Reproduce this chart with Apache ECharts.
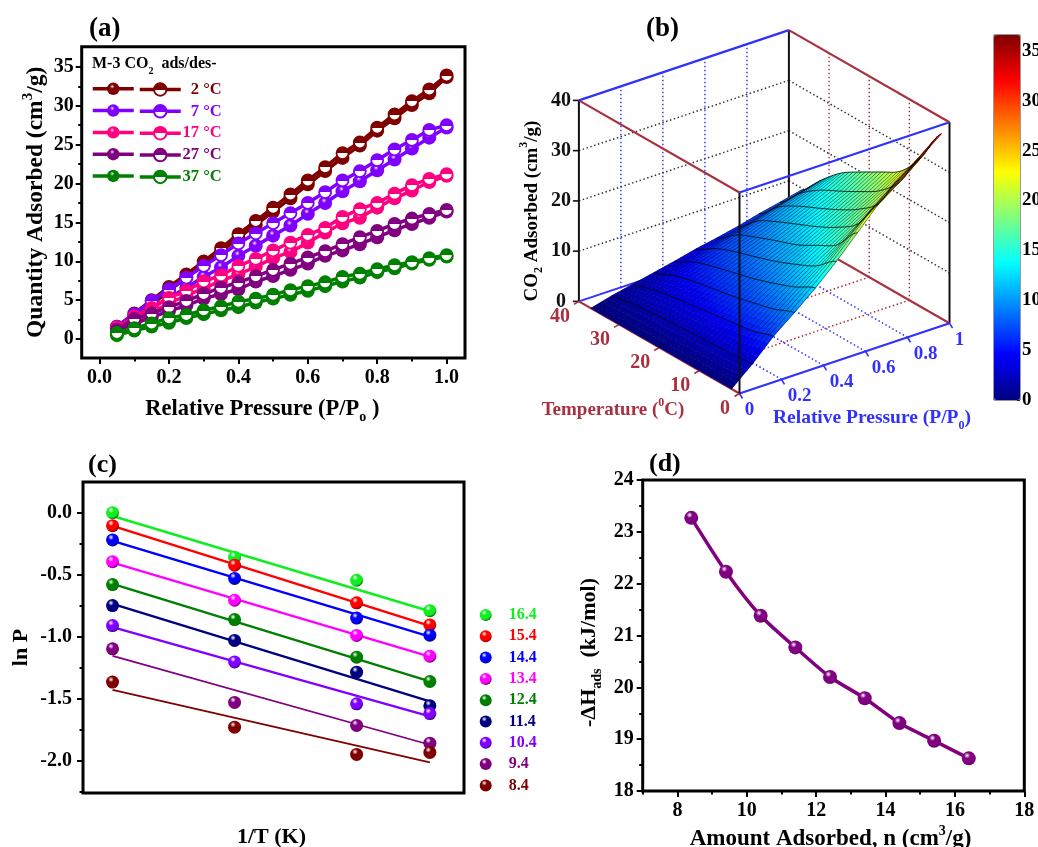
<!DOCTYPE html>
<html><head><meta charset="utf-8">
<style>html,body{margin:0;padding:0;background:#fff}#c{width:1038px;height:847px}</style>
<script src="https://cdn.jsdelivr.net/npm/echarts@6/dist/echarts.min.js"></script>
</head><body><div id="c"></div>
<script>
// ---------- panel (a) data ----------
const pressure = [0.05,0.1,0.15,0.2,0.25,0.3,0.35,0.4,0.45,0.5,0.55,0.6,0.65,0.7,0.75,0.8,0.85,0.9,0.95,1.0];
const tempLabels = ['2 °C','7 °C','17 °C','27 °C','37 °C'];
const tempColors = ['#800000','#8000ff','#ff0080','#800080','#008000'];
const ads2  = [1.4,2.8,4.4,6.2,7.9,9.5,11.2,13.0,14.7,16.4,18.1,19.9,21.6,23.3,24.9,26.8,28.4,30.1,31.6,33.7];
const des2  = [1.6,3.3,5.0,6.7,8.3,10,11.7,13.5,15.2,16.9,18.6,20.4,22.1,23.9,25.3,27.2,28.9,30.6,32.1,33.9];
const ads7  = [1.3,2.7,4.0,5.3,6.6,8.0,9.2,10.7,12.0,13.3,14.6,16.1,17.5,19.0,20.3,21.7,23.1,24.5,25.9,27.2];
const des7  = [1.6,3.2,4.9,6.4,7.9,9.4,10.8,12.3,13.6,14.9,16.2,17.5,18.9,20.4,21.6,23.0,24.4,25.6,26.9,27.5];
const ads17 = [1.3,2.3,3.4,4.6,5.6,6.5,7.5,8.3,9.3,10.4,11.2,12.4,13.7,14.9,15.6,16.9,18.1,19.1,20.2,21.0];
const des17 = [1.5,2.9,4.0,5.3,6.2,7.4,8.2,9.4,10.3,11.4,12.4,13.4,14.3,15.7,16.7,17.5,18.7,19.8,20.6,21.2];
const ads27 = [1.0,2.0,2.8,3.6,4.3,5.2,5.8,6.4,7.4,8.1,8.9,9.7,10.7,11.4,12.2,13.1,14.0,14.8,15.6,16.4];
const des27 = [1.2,2.6,3.3,4.1,4.9,5.8,6.6,7.3,8.1,8.9,9.7,10.5,11.3,12.2,13.1,13.9,14.8,15.5,16.1,16.6];
const ads37 = [0.5,1.1,1.6,2.1,2.7,3.2,3.7,4.1,4.7,5.2,5.7,6.2,6.8,7.4,7.9,8.6,9.1,9.7,10.2,10.6];
const des37 = [0.8,1.4,2.0,2.7,3.1,3.7,4.2,4.8,5.2,5.7,6.3,6.8,7.3,8.0,8.4,9.0,9.5,9.9,10.4,10.8];
const adsAll = [ads2,ads7,ads17,ads27,ads37];
const desAll = [des2,des7,des17,des27,des37];
const aXTicks = [0,0.2,0.4,0.6,0.8,1.0];
const aXMinor = [0.1,0.3,0.5,0.7,0.9];
const aYTicks = [0,5,10,15,20,25,30,35];
const aYMinor = [2.5,7.5,12.5,17.5,22.5,27.5,32.5];

// ---------- panel (b) data ----------
const surfaceP = [0,0.1,0.2,0.3,0.4,0.5,0.6,0.7,0.8,0.9,1.0];
const surfaceT = [2,7,12,17,22,27,32,37];
const surfT2  = [0,3.6,7.7,11,14.5,18.4,22.7,27,30.5,33.5,36.8];
const surfT7  = [0,3.2,6.4,9.4,12.4,15.2,18.0,20.8,23.5,26.4,29.8];
const surfT12 = [0,3.0,5.8,8.3,10.8,13.2,15.6,17.8,20.0,22.3,24.8];
const surfT17 = [0,2.8,5.2,7.3,9.4,11.5,13.4,15.6,17.6,19.8,22.3];
const surfT22 = [0,2.6,4.6,6.5,8.3,10.1,11.9,13.8,15.6,17.6,20.0];
const surfT27 = [0,2.3,4.0,5.7,7.2,8.8,10.3,12.0,13.7,15.5,17.5];
const surfT32 = [0,1.8,3.2,4.6,5.9,7.2,8.5,9.9,11.3,12.6,13.8];
const surfT37 = [0,1.1,2.0,2.9,3.8,4.8,5.6,6.5,7.6,8.5,9.5];
const surfaceRows = [surfT2,surfT7,surfT12,surfT17,surfT22,surfT27,surfT32,surfT37];
const bPTicks = [0,0.2,0.4,0.6,0.8,1];
const bTTicks = [0,10,20,30,40];
const bZTicks = [0,10,20,30,40];
const cbTicks = [0,5,10,15,20,25,30,35];

// ---------- panel (c) data ----------
const invT = [3.23,3.33,3.43,3.49];
const loadings = ['16.4','15.4','14.4','13.4','12.4','11.4','10.4','9.4','8.4'];
const loadColors = ['#10ee20','#ff0000','#0000ff','#ff00ff','#008000','#000080','#8000ff','#800080','#800000'];
const ln164 = [0,-0.36,-0.545,-0.79];
const ln154 = [-0.105,-0.424,-0.727,-0.905];
const ln144 = [-0.22,-0.53,-0.85,-0.988];
const ln134 = [-0.395,-0.706,-0.99,-1.157];
const ln124 = [-0.58,-0.862,-1.165,-1.361];
const ln114 = [-0.749,-1.03,-1.286,-1.557];
const ln104 = [-0.91,-1.203,-1.541,-1.62];
const ln94  = [-1.098,-1.53,-1.715,-1.858];
const ln84  = [-1.366,-1.729,-1.949,-1.933];
const lnAll = [ln164,ln154,ln144,ln134,ln124,ln114,ln104,ln94,ln84];
const fitStart = [-0.027,-0.107,-0.228,-0.403,-0.574,-0.736,-0.923,-1.154,-1.428];
const fitEnd   = [-0.795,-0.913,-0.999,-1.16,-1.361,-1.522,-1.643,-1.871,-2.013];
const cYTicks = [0,-0.5,-1,-1.5,-2];
const cYMinor = [0.25,-0.25,-0.75,-1.25,-1.75,-2.25];

// ---------- panel (d) data ----------
const amount = [8.4,9.4,10.4,11.4,12.4,13.4,14.4,15.4,16.4];
const enthalpy = [23.27,22.23,21.38,20.77,20.2,19.79,19.31,18.97,18.63];
const dXTicks = [8,10,12,14,16,18];
const dXMinor = [7,9,11,13,15,17];
const dYTicks = [18,19,20,21,22,23,24];
const dYMinor = [18.5,19.5,20.5,21.5,22.5,23.5];

// ---------- styling ----------
const SERIF = '"Liberation Serif","Times New Roman",serif';
const LF = 20;
function richBase(sz){ return {
  b:{fontFamily:SERIF,fontWeight:'bold',fontSize:sz,lineHeight:sz+8,color:'#000'},
  sup:{fontFamily:SERIF,fontWeight:'bold',fontSize:Math.round(sz*0.62),lineHeight:sz*0.7,verticalAlign:'top',color:'#000'},
  sub:{fontFamily:SERIF,fontWeight:'bold',fontSize:Math.round(sz*0.62),lineHeight:sz*0.7,verticalAlign:'bottom',color:'#000'}
};}
function labelStyle(ticks,margin,fmt){
  const o={show:true,customValues:ticks,fontFamily:SERIF,fontWeight:'bold',fontSize:LF,color:'#000',margin};
  if(fmt) o.formatter=fmt;
  return o;
}
function mainAxis(gridIndex,min,max,ticks,extra){
  return Object.assign({type:'value',gridIndex,min,max,
    axisLine:{show:false,onZero:false},splitLine:{show:false},
    axisTick:{show:true,length:6,customValues:ticks,lineStyle:{color:'#000',width:2}},
    axisLabel:labelStyle(ticks,8)
  },extra||{});
}
function minorAxis(gridIndex,min,max,ticks,pos){
  return {type:'value',gridIndex,min,max,position:pos,
    axisLine:{show:false,onZero:false},splitLine:{show:false},axisLabel:{show:false},
    axisTick:{show:true,length:3.5,customValues:ticks,lineStyle:{color:'#000',width:2}}};
}
function hiddenAxis(gridIndex,min,max,inv){
  return {type:'value',gridIndex,min,max,inverse:!!inv,show:false};
}
const G = {show:true,borderColor:'#000',borderWidth:3,backgroundColor:'transparent',outerBoundsMode:'none'};

const grids = [
  Object.assign({left:81.7,top:46.7,width:383.3,height:311.3},G),
  Object.assign({left:83,top:482,width:381,height:311},G),
  Object.assign({left:642.7,top:480,width:381.6,height:311},G),
  {left:0,top:0,width:1038,height:847,show:false,outerBoundsMode:'none'},
  {left:994,top:35,width:26,height:365,show:true,borderColor:'#333',borderWidth:1,backgroundColor:'transparent',outerBoundsMode:'none'}
];
const xAxes = [
  mainAxis(0,-0.0515,1.053,aXTicks,{name:'{b|Relative Pressure (P/P}{sub|o}{b| )}',nameLocation:'middle',nameGap:36,
     nameTextStyle:{rich:richBase(22.5),padding:[0,22,0,0]},axisLabel:labelStyle(aXTicks,10,v=>v.toFixed(1))}),
  {type:'value',gridIndex:1,min:3.2058,max:3.518,axisLine:{show:false,onZero:false},axisTick:{show:false},axisLabel:{show:false},splitLine:{show:false},
   name:'{b|1/T (K)}',nameLocation:'middle',nameGap:29,nameTextStyle:{rich:richBase(22),padding:[0,4,0,0]}},
  mainAxis(2,7,18,dXTicks,{name:'{b|Amount Adsorbed, n (cm}{sup|3}{b|/g)}',nameLocation:'middle',nameGap:33,
     nameTextStyle:{rich:richBase(23),padding:[0,6,0,0]},axisLabel:labelStyle(dXTicks,10)}),
  hiddenAxis(3,0,1038),
  hiddenAxis(4,0,1),
  minorAxis(0,-0.0515,1.053,aXMinor,'bottom'),
  minorAxis(2,7,18,dXMinor,'bottom')
];
const yAxes = [
  mainAxis(0,-2.44,37.6,aYTicks,{name:'{b|Quantity Adsorbed (cm}{sup|3}{b|/g)}',nameLocation:'middle',nameGap:30,
     nameTextStyle:{rich:richBase(23.5)}}),
  mainAxis(1,-2.26,0.247,cYTicks,{name:'{b|ln P}',nameLocation:'middle',nameGap:47,
     nameTextStyle:{rich:richBase(22),padding:[0,20,0,0]},axisLabel:labelStyle(cYTicks,11,v=>v.toFixed(1))}),
  mainAxis(2,18,24,dYTicks,{name:'{b|-ΔH}{sub|ads}{b|  (kJ/mol)}',nameLocation:'middle',nameGap:38,
     nameTextStyle:{rich:richBase(22),padding:[0,34,0,0]},axisLabel:labelStyle(dYTicks,9)}),
  hiddenAxis(3,0,847,true),
  {type:'value',gridIndex:4,min:0,max:36.6,position:'right',axisLine:{show:false,onZero:false},splitLine:{show:false},
    axisTick:{show:true,inside:true,length:3,customValues:cbTicks,lineStyle:{color:'#222',width:1}},
    axisLabel:{show:true,customValues:cbTicks,fontFamily:SERIF,fontWeight:'bold',fontSize:19,color:'#000',margin:2}},
  minorAxis(0,-2.44,37.6,aYMinor,'left'),
  minorAxis(1,-2.26,0.247,cYMinor,'left'),
  minorAxis(2,18,24,dYMinor,'left')
];

// ---------- markers ----------
function filledBall(c){ return new echarts.graphic.RadialGradient(0.42,0.32,0.6,[
  {offset:0,color:'#e8e8e8'},{offset:0.3,color:c},{offset:1,color:c}]); }
function halfDisc(c){ return new echarts.graphic.LinearGradient(0,0,0,1,[
  {offset:0,color:c},{offset:0.52,color:c},{offset:0.52,color:'#fff'},{offset:1,color:'#fff'}]); }
function sphere(c){ return new echarts.graphic.RadialGradient(0.38,0.3,0.72,[
  {offset:0,color:'#ffffff'},{offset:0.3,color:c},{offset:0.75,color:c},{offset:1,color:echarts.color.modifyHSL(c,null,null,0.22)}]); }

const series = [];
// panel (a)
tempLabels.forEach((name,i)=>{
  const c = tempColors[i];
  series.push({type:'line',name:name+' ads',xAxisIndex:0,yAxisIndex:0,data:pressure.map((p,k)=>[p,adsAll[i][k]]),
    symbol:'circle',symbolSize:14,showSymbol:true,lineStyle:{color:c,width:3.5},itemStyle:{color:filledBall(c),borderColor:c,borderWidth:0},
    silent:true,animation:false,z:2+i});
  series.push({type:'line',name:name,xAxisIndex:0,yAxisIndex:0,data:pressure.map((p,k)=>[p,desAll[i][k]]),
    symbol:'circle',symbolSize:12,showSymbol:true,lineStyle:{color:c,width:3.5},itemStyle:{color:halfDisc(c),borderColor:c,borderWidth:1.8},
    silent:true,animation:false,z:2+i});
});
// panel (c)
loadings.forEach((name,i)=>{
  const c = loadColors[i];
  series.push({type:'line',name:name+' fit',xAxisIndex:1,yAxisIndex:1,
    data:[[invT[0],fitStart[i]],[invT[3],fitEnd[i]]],symbol:'none',lineStyle:{color:c,width:i>=7?1.8:2.4},silent:true,animation:false,z:2});
  series.push({type:'scatter',name:name,xAxisIndex:1,yAxisIndex:1,data:invT.map((t,k)=>[t,lnAll[i][k]]),
    symbol:'circle',symbolSize:13,itemStyle:{color:sphere(c),opacity:1},silent:true,animation:false,z:3});
});
// panel (d)
series.push({type:'line',name:'Qst',xAxisIndex:2,yAxisIndex:2,data:amount.map((a,k)=>[a,enthalpy[k]]),smooth:0.25,
  symbol:'circle',symbolSize:14,lineStyle:{color:'#800080',width:3.5},itemStyle:{color:sphere('#800080')},silent:true,animation:false,z:3});

// ---------- panel (b): projection of the 3-D box onto the overlay grid ----------
const PROJ = {ox:739.5,oy:393.5,px:210,py:-70.3,tx:-160.6,ty:-92.1,zy:-201};
function project(p,t,z){ return [PROJ.ox+PROJ.px*p+PROJ.tx*t/40, PROJ.oy+PROJ.py*p+PROJ.ty*t/40+PROJ.zy*z/40]; }
const JET = ['#00007f','#0000ff','#007fff','#00ffff','#7fff7f','#ffff00','#ff7f00','#ff0000','#7f0000'];
const Z_MAX = 36.6;
const SURF_SHADE = 0.88;
function jet(z){
  const f = Math.max(0,Math.min(0.9999,z*SURF_SHADE/Z_MAX))*(JET.length-1), i=Math.floor(f), r=f-i;
  const a=echarts.color.parse(JET[i]), b=echarts.color.parse(JET[i+1]);
  return 'rgb('+[0,1,2].map(k=>Math.round(a[k]+(b[k]-a[k])*r)).join(',')+')';
}
// drawing-only smoothing across the read table so the facets look like the surface
function cr(a,b,c,d,s){ return 0.5*((2*b)+(-a+c)*s+(2*a-5*b+4*c-d)*s*s+(-a+3*b-3*c+d)*s*s*s); }
function cellZ(pi,tf){
  const n=surfaceRows.length, ti=Math.min(n-2,Math.floor(tf)), s=tf-ti;
  const g=k=>surfaceRows[Math.max(0,Math.min(n-1,k))][pi];
  return cr(g(ti-1),g(ti),g(ti+1),g(ti+2),s);
}
function surfZ(pf,tf){
  const pi=Math.min(surfaceP.length-2,Math.floor(pf)), r=pf-pi;
  return cellZ(pi,tf)*(1-r)+cellZ(pi+1,tf)*r;
}
function pOf(pf){ return pf*0.1; }
function tOf(tf){ return surfaceT[0]+tf*5; }
function pt(api,p,t,z){ return api.coord(project(p,t,z)); }
const NT=5, NP=4;
const cells=[];
for(let t=surfaceT.length-2;t>=0;t--) for(let p=surfaceP.length-2;p>=0;p--) cells.push([p,t]);
function renderCell(params,api){
  const pi=api.value(0), ti=api.value(1), children=[];
  for(let a=NT-1;a>=0;a--) for(let b=NP-1;b>=0;b--){
    const t0=ti+a/NT,t1=ti+(a+1)/NT,p0=pi+b/NP,p1=pi+(b+1)/NP;
    const z00=surfZ(p0,t0),z10=surfZ(p1,t0),z11=surfZ(p1,t1),z01=surfZ(p0,t1);
    const c=jet((z00+z10+z11+z01)/4);
    children.push({type:'polygon',shape:{points:[
      pt(api,pOf(p0),tOf(t0),z00),pt(api,pOf(p1),tOf(t0),z10),pt(api,pOf(p1),tOf(t1),z11),pt(api,pOf(p0),tOf(t1),z01)]},
      style:{fill:c,stroke:c,lineWidth:0.6},silent:true});
  }
  return {type:'group',children};
}
function renderMesh(params,api){
  const children=[];
  const nTot=(surfaceT.length-1)*NT;
  for(let a=0;a<=nTot;a++){
    const tf=a/NT, pts=[];
    for(let b=0;b<=(surfaceP.length-1)*NP;b++){ const pf=b/NP; pts.push(pt(api,pOf(pf),tOf(tf),surfZ(pf,tf))); }
    children.push({type:'polyline',shape:{points:pts},style:{stroke:'rgba(0,0,20,0.55)',lineWidth:0.9,fill:'none'},silent:true});
  }
  for(let b=1;b<surfaceP.length;b++){
    const pts=[];
    for(let a=0;a<=nTot;a++){ const tf=a/NT; pts.push(pt(api,pOf(b),tOf(tf),surfZ(b,tf))); }
    children.push({type:'polyline',shape:{points:pts},style:{stroke:'rgba(0,0,0,0.75)',lineWidth:1,fill:'none'},silent:true});
  }
  return {type:'group',children};
}
const RED='#a8303f', BLUE='#3030ff';
function seg(api,a,b,stroke,w,dash){
  const A=api.coord(project(...a)),B=api.coord(project(...b));
  return {type:'line',shape:{x1:A[0],y1:A[1],x2:B[0],y2:B[1]},style:{stroke,lineWidth:w,lineDash:dash||null},silent:true};
}
function seg2(api,a,dx,dy,stroke){
  const A=api.coord(project(...a));
  return {type:'line',shape:{x1:A[0],y1:A[1],x2:A[0]+dx,y2:A[1]+dy},style:{stroke,lineWidth:1.6},silent:true};
}
function txt(api,pos,dx,dy,text,fill,size){
  const A=api.coord(project(...pos));
  return {type:'text',x:A[0]+dx,y:A[1]+dy,style:{text:String(text),x:0,y:0,align:'center',verticalAlign:'middle',fill,font:'bold '+(size||19)+'px '+SERIF},silent:true};
}
function renderWalls(params,api){
  const c=[], dot=[1.5,2.5];
  bZTicks.slice(1,-1).forEach(z=>{
    c.push(seg(api,[0,40,z],[1,40,z],'#333',1.5,dot));
    c.push(seg(api,[1,40,z],[1,0,z],'#333',1.5,dot));
  });
  bPTicks.slice(1,-1).forEach(p=>{
    c.push(seg(api,[p,40,0],[p,40,40],BLUE,1.4,dot));
    c.push(seg(api,[p,0,0],[p,40,0],BLUE,1.5,dot));
  });
  bTTicks.slice(1,-1).forEach(t=>{
    c.push(seg(api,[1,t,0],[1,t,40],RED,1.4,dot));
    c.push(seg(api,[0,t,0],[1,t,0],RED,1.5,dot));
  });
  c.push(seg(api,[1,40,0],[1,40,40],'#111',2));
  c.push(seg(api,[0,40,0],[0,40,40],'#111',2));
  c.push(seg(api,[1,0,0],[1,0,40],'#111',2));
  c.push(seg(api,[0,40,0],[1,40,0],BLUE,2));
  c.push(seg(api,[1,40,0],[1,0,0],RED,2.2));
  c.push(seg(api,[0,0,0],[0,40,0],RED,2.2));
  c.push(seg(api,[0,0,0],[1,0,0],BLUE,2.2));
  bZTicks.forEach(z=>{ const A=[0,40,z]; c.push(seg2(api,A,-6,0,'#111')); c.push(txt(api,A,-18,0,z,'#111',20)); });
  bTTicks.forEach(t=>{ const A=[0,t,0]; c.push(seg2(api,A,-5,3,RED)); c.push(txt(api,A,t===0?-14.5:-19,15,t,RED,20)); });
  bPTicks.forEach(p=>{ const A=[p,0,0]; c.push(seg2(api,A,3,5,BLUE));
    c.push(txt(api,A,(p===0||p===1)?10:18,17,p,BLUE,19)); });
  return {type:'group',children:c};
}
function renderFront(params,api){
  return {type:'group',children:[
    seg(api,[0,0,0],[0,0,40],'#111',2),
    seg(api,[0,40,40],[0,0,40],RED,2.2),
    seg(api,[0,0,40],[1,0,40],BLUE,2.2),
    seg(api,[0,40,40],[1,40,40],BLUE,2.2),
    seg(api,[1,40,40],[1,0,40],RED,2.2)
  ]};
}
function overlay(name,render,data,z){
  return {type:'custom',name,xAxisIndex:3,yAxisIndex:3,coordinateSystem:'cartesian2d',data,renderItem:render,clip:false,silent:true,animation:false,z,encode:{x:0,y:1}};
}
series.push(overlay('walls',renderWalls,[[0,0]],2));
series.push(overlay('surface',renderCell,cells,3));
series.push(overlay('mesh',renderMesh,[[0,0]],4));
series.push(overlay('front',renderFront,[[0,0]],5));
const cbIndex = series.length;
series.push({type:'custom',name:'colorbar',xAxisIndex:4,yAxisIndex:4,data:[],renderItem:()=>null,silent:true,animation:false});

// ---------- legends ----------
const aRich = {};
tempColors.forEach((c,i)=>{ aRich['t'+i]={color:c,fontFamily:SERIF,fontWeight:'bold',fontSize:16.5,width:36,align:'right',lineHeight:15}; });
const legends = [
  {left:91,top:81,orient:'vertical',itemWidth:41,itemHeight:15.6,itemGap:7.75,padding:0,selectedMode:false,lineStyle:{width:3.5},
   data:tempLabels.map(n=>n+' ads'),formatter:()=>'',textStyle:{fontSize:1}},
  {left:138,top:81,orient:'vertical',itemWidth:41,itemHeight:15.6,itemGap:4.85,padding:0,selectedMode:false,lineStyle:{width:3.5},
   data:tempLabels,formatter:n=>'{t'+tempLabels.indexOf(n)+'|'+n+'}',
   textStyle:{rich:aRich,lineHeight:15}},
  {left:479.7,top:607,orient:'vertical',itemWidth:12,itemHeight:12,itemGap:5.3,padding:0,selectedMode:false,
   data:loadings.map((n,i)=>({name:n,textStyle:{color:loadColors[i]}})),
   textStyle:{fontFamily:SERIF,fontWeight:'bold',fontSize:16,lineHeight:12,padding:[0,0,0,12]}}
];

// ---------- free text ----------
function label(text,x,y,size){
  return {type:'text',left:x,top:y,silent:true,style:{text,fill:'#000',font:'bold '+size+'px '+SERIF}};
}
function richText(text,x,y,size,color,rotation){
  const rich=richBase(size);
  Object.keys(rich).forEach(k=>rich[k].color=color);
  return {type:'text',x,y,rotation:rotation||0,silent:true,style:{text,rich,align:'center',verticalAlign:'middle',fill:color}};
}
const graphics = [
  label('(a)',89,16,27), label('(b)',646,16,27), label('(c)',88,452,26), label('(d)',649,451,26),
  {type:'text',x:92,y:52,silent:true,style:{text:'{b|M-3 CO}{sub|2}{b|  ads/des-}',rich:richBase(16),verticalAlign:'top'}},
  richText('{b|CO}{sub|2}{b| Adsorbed (cm}{sup|3}{b|/g)}',531.6,211,19,'#000',Math.PI/2),
  richText('{b|Temperature (}{sup|0}{b|C)}',613,410,19,RED),
  richText('{b|Relative Pressure (P/P}{sub|0}{b|)}',872,418,19.5,BLUE)
];

const chart = echarts.init(document.getElementById('c'),null,{renderer:'canvas'});
chart.setOption({
  backgroundColor:'#fff',animation:false,
  grid:grids,xAxis:xAxes,yAxis:yAxes,series,legend:legends,graphic:graphics,
  visualMap:[{type:'continuous',min:0,max:Z_MAX,left:994,top:35,itemWidth:26,itemHeight:365,padding:0,calculable:false,realtime:false,
    seriesIndex:cbIndex,text:null,showLabel:false,inRange:{color:JET},hoverLink:false,textStyle:{fontSize:1,color:'rgba(0,0,0,0)'}}]
});
</script></body></html>
